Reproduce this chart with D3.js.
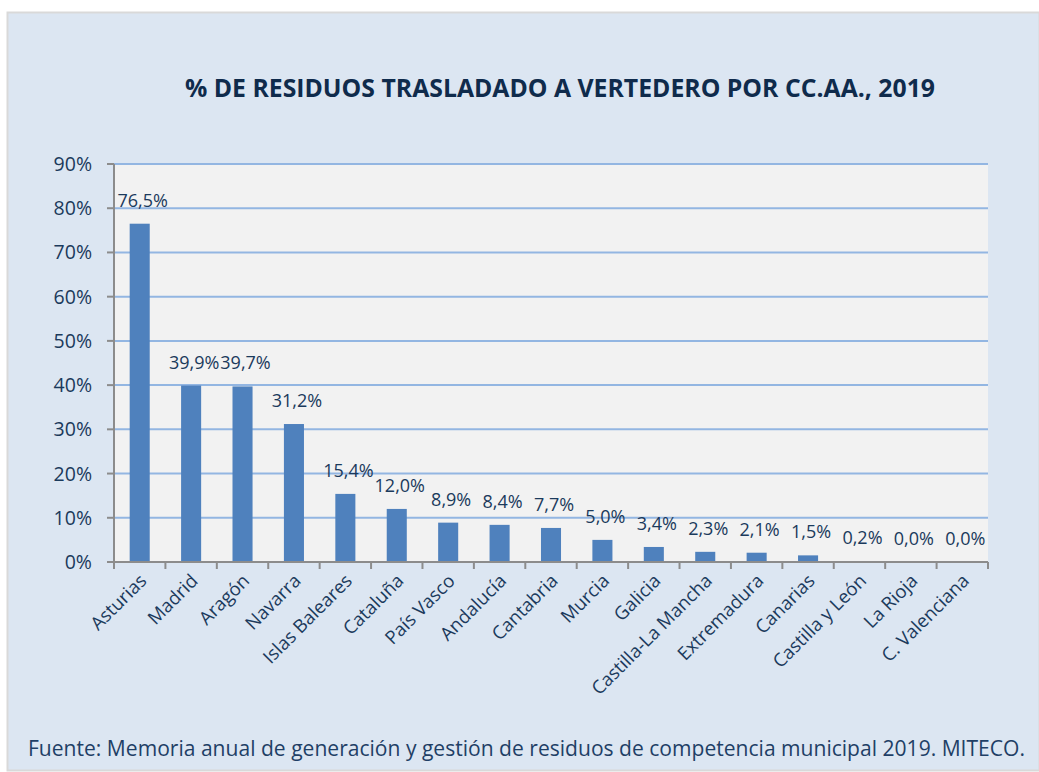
<!DOCTYPE html>
<html>
<head>
<meta charset="utf-8">
<script src="https://cdn.jsdelivr.net/npm/d3@7"></script>
<style>
  body { margin: 0; background: #ffffff; }
  text { font-family: "Open Sans", "DejaVu Sans", sans-serif; fill: #1b3a5c; }
</style>
</head>
<body>
<div id="chart"></div>
<script>
// data
var regions = ["Asturias", "Madrid", "Aragón", "Navarra", "Islas Baleares", "Cataluña",
  "País Vasco", "Andalucía", "Cantabria", "Murcia", "Galicia", "Castilla-La Mancha",
  "Extremadura", "Canarias", "Castilla y León", "La Rioja", "C. Valenciana"];
var values = [76.5, 39.9, 39.7, 31.2, 15.4, 12.0, 8.9, 8.4, 7.7, 5.0, 3.4, 2.3, 2.1, 1.5, 0.2, 0.0, 0.0];
var yTicks = [0, 10, 20, 30, 40, 50, 60, 70, 80, 90];
var title = "% DE RESIDUOS TRASLADADO A VERTEDERO POR CC.AA., 2019";
var source = "Fuente: Memoria anual de generación y gestión de residuos de competencia municipal 2019. MITECO.";

var W = 1039, H = 772;
var plot = { left: 114, right: 988, top: 164, bottom: 562 };

var svg = d3.select("#chart").append("svg")
    .attr("width", W)
    .attr("height", H);

// outer panel
svg.append("rect")
    .attr("x", 7.5).attr("y", 12.5)
    .attr("width", W - 7).attr("height", H - 14)
    .attr("fill", "#dce6f2")
    .attr("stroke", "#d9d9d9")
    .attr("stroke-width", 2);

// plot area
svg.append("rect")
    .attr("x", plot.left).attr("y", plot.top)
    .attr("width", plot.right - plot.left).attr("height", plot.bottom - plot.top)
    .attr("fill", "#f2f2f2");

var x = d3.scaleBand().domain(regions).range([plot.left, plot.right]).paddingInner(0.61).paddingOuter(0.305);
var xb = d3.scaleLinear().domain([0, regions.length]).range([plot.left, plot.right]);
var y = d3.scaleLinear().domain([0, 90]).range([plot.bottom, plot.top]);

// gridlines
svg.append("g").selectAll("line")
    .data(yTicks.filter(function(d) { return d > 0; }))
    .enter().append("line")
    .attr("x1", plot.left).attr("x2", plot.right)
    .attr("y1", function(d) { return y(d); })
    .attr("y2", function(d) { return y(d); })
    .attr("stroke", "#93b6e2")
    .attr("stroke-width", 2);

// bars
svg.append("g").selectAll("rect")
    .data(values)
    .enter().append("rect")
    .attr("x", function(d, i) { return x(regions[i]); })
    .attr("width", x.bandwidth())
    .attr("y", function(d) { return y(d); })
    .attr("height", function(d) { return plot.bottom - y(d); })
    .attr("fill", "#4f81bd");

// data labels
svg.append("g").selectAll("text")
    .data(values)
    .enter().append("text")
    .attr("x", function(d, i) { return x(regions[i]) + x.bandwidth() / 2 + 3; })
    .attr("y", function(d) { return y(d) - 17; })
    .attr("text-anchor", "middle")
    .style("font-size", "18px")
    .text(function(d) { return d.toFixed(1).replace(".", ",") + "%"; });

// y axis
var yAxis = svg.append("g");
yAxis.append("line")
    .attr("x1", plot.left).attr("x2", plot.left)
    .attr("y1", plot.top).attr("y2", plot.bottom)
    .attr("stroke", "#8c8c8c").attr("stroke-width", 2);
yAxis.selectAll(".tk").data(yTicks).enter().append("line")
    .attr("x1", plot.left - 7).attr("x2", plot.left)
    .attr("y1", function(d) { return y(d); })
    .attr("y2", function(d) { return y(d); })
    .attr("stroke", "#8c8c8c").attr("stroke-width", 2);
yAxis.selectAll("text").data(yTicks).enter().append("text")
    .attr("x", 92)
    .attr("y", function(d) { return y(d) + 7; })
    .attr("text-anchor", "end")
    .style("font-size", "19.5px")
    .text(function(d) { return d + "%"; });

// x axis
var xAxis = svg.append("g");
xAxis.append("line")
    .attr("x1", plot.left - 7).attr("x2", plot.right)
    .attr("y1", plot.bottom).attr("y2", plot.bottom)
    .attr("stroke", "#8c8c8c").attr("stroke-width", 2);
xAxis.selectAll(".tk").data(d3.range(regions.length + 1)).enter().append("line")
    .attr("x1", function(d) { return xb(d); })
    .attr("x2", function(d) { return xb(d); })
    .attr("y1", plot.bottom).attr("y2", plot.bottom + 7)
    .attr("stroke", "#8c8c8c").attr("stroke-width", 2);
xAxis.selectAll("text").data(regions).enter().append("text")
    .attr("transform", function(d) {
        return "translate(" + (x(d) + x.bandwidth() / 2 + 8) + "," + (plot.bottom + 20) + ") rotate(-45)";
    })
    .attr("text-anchor", "end")
    .style("font-size", "18.5px")
    .text(function(d) { return d; });

// title
svg.append("text")
    .attr("x", 185).attr("y", 97)
    .attr("textLength", 750)
    .attr("lengthAdjust", "spacingAndGlyphs")
    .style("font-size", "25px")
    .style("font-weight", "bold")
    .style("fill", "#0f2b4c")
    .text(title);

// source
svg.append("text")
    .attr("x", 28).attr("y", 756)
    .attr("textLength", 997)
    .attr("lengthAdjust", "spacingAndGlyphs")
    .style("font-size", "21px")
    .style("fill", "#1f3f66")
    .text(source);
</script>
</body>
</html>
